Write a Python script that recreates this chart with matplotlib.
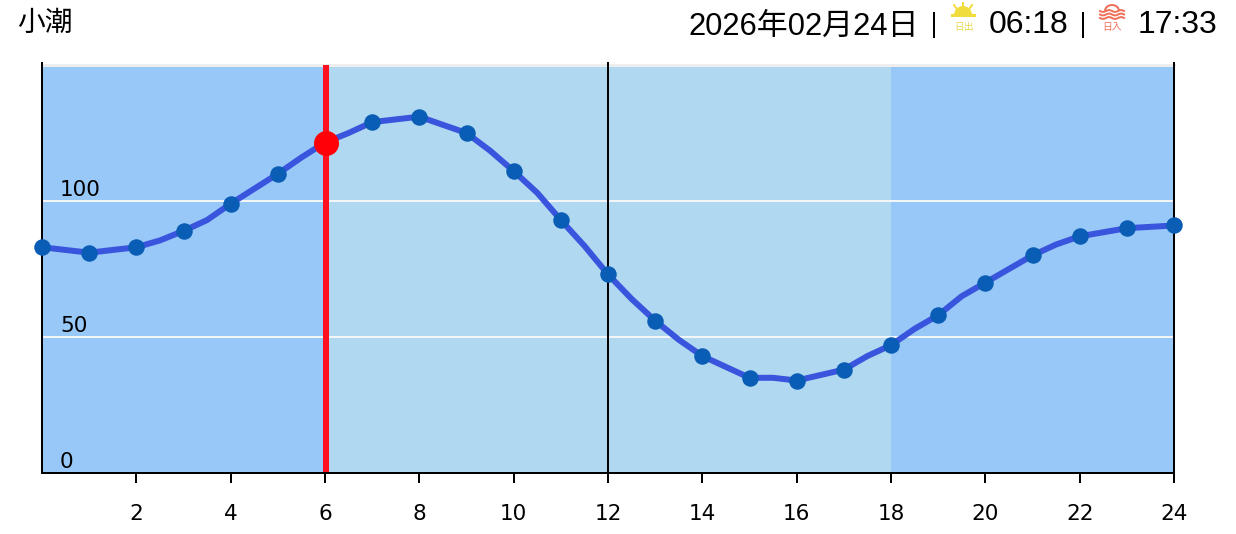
import matplotlib
matplotlib.use('Agg')
import matplotlib.pyplot as plt
from matplotlib.patches import Wedge, Rectangle, Arc
import numpy as np

plt.rcParams['font.family'] = ['Liberation Sans', 'Noto Sans CJK JP', 'DejaVu Sans']

# tide level read at every half hour
line_hours = [0, 0.5, 1, 1.5, 2, 2.5, 3, 3.5, 4, 4.5, 5, 5.5, 6, 6.5, 7, 7.5, 8, 8.5, 9, 9.5,
              10, 10.5, 11, 11.5, 12, 12.5, 13, 13.5, 14, 14.5, 15, 15.5, 16, 16.5, 17, 17.5,
              18, 18.5, 19, 19.5, 20, 20.5, 21, 21.5, 22, 22.5, 23, 23.5, 24]
line_level = [83, 82, 81, 82, 83, 85.5, 89, 93, 99, 104.5, 110, 116, 121.5, 125, 129, 130, 131, 128, 125, 118.5,
              111, 103, 93, 83.5, 73, 64, 56, 49, 43, 39, 35, 35, 34, 36, 38, 43,
              47, 53, 58, 65, 70, 75, 80, 84, 87, 88.5, 90, 90.5, 91]
point_hours = line_hours[::2]
point_level = line_level[::2]
now_hour = 6
now_level = 121.5

x_ticks = [2, 4, 6, 8, 10, 12, 14, 16, 18, 20, 22, 24]
y_labels = [0, 50, 100]
day_start = 6
day_end = 18

W, H = 1236, 534
PX = 0.72  # px -> pt at dpi 100

fig = plt.figure(figsize=(W / 100, H / 100), dpi=100, facecolor='white')
ax = fig.add_axes([42 / W, 1 - 473 / H, (1174 - 42) / W, (473 - 65) / H])
ax.set_xlim(0, 24)
ax.set_ylim(0, 150)

# night / day background
ax.axvspan(0, day_start, color='#97c8f7', lw=0, zorder=0)
ax.axvspan(day_start, day_end, color='#b0d8f0', lw=0, zorder=0)
ax.axvspan(day_end, 24, color='#97c8f7', lw=0, zorder=0)

for v in [50, 100]:
    ax.axhline(v, color='#f2f6f8', lw=2 * PX, zorder=1)
ax.axhline(150, color='#eeeeee', lw=3 * PX, zorder=1, clip_on=False)

ax.plot([12, 12], [0, 150.8], color='black', lw=2 * PX, zorder=2, clip_on=False)
ax.plot([24, 24], [0, 150.8], color='black', lw=2 * PX, zorder=2, clip_on=False)
ax.plot([0, 0], [0, 150.8], color='black', lw=2 * PX, zorder=2, clip_on=False)
ax.axvline(now_hour + 0.02, color='#ff1020', lw=6 * PX, zorder=3)

ax.plot(line_hours, line_level, color='#3a55dd', lw=6 * PX, zorder=4, clip_on=False)
ax.plot(point_hours, point_level, ls='none', marker='o', ms=16.5 * PX, color='#0a5db5', mew=0, zorder=5, clip_on=False)
ax.plot([now_hour + 0.02], [now_level], ls='none', marker='o', ms=25 * PX, color='#ff0008', mew=0, zorder=6, clip_on=False)

for s in ['top', 'right', 'left']:
    ax.spines[s].set_visible(False)
ax.spines['bottom'].set_linewidth(2 * PX)
ax.spines['bottom'].set_zorder(7)

ax.set_yticks([])
ax.set_xticks(x_ticks)
ax.tick_params(axis='x', length=10 * PX, width=2 * PX, pad=21 * PX, labelsize=15.5)
for lab in ax.get_xticklabels():
    lab.set_fontfamily('DejaVu Sans')

for v in y_labels:
    ax.annotate(str(v), xy=(0, v), xytext=(18 * PX, 1 * PX), textcoords='offset points',
                fontsize=15.5, family='DejaVu Sans', ha='left', va='bottom', zorder=8)

# header drawn in pixel coordinates
top = fig.add_axes([0, 0, 1, 1], facecolor='none')
top.set_xlim(0, W)
top.set_ylim(H, 0)
top.axis('off')

top.text(17, 23.5, '小潮', fontsize=20, va='center', ha='left')
top.text(689, 27, '2026年02月24日', fontsize=22.3, va='center', ha='left')
top.text(989, 25, '06:18', fontsize=23, va='center', ha='left')
top.text(1138, 25, '17:33', fontsize=23, va='center', ha='left')
for x in [933.5, 1082.5]:
    top.plot([x, x], [12, 38], color='black', lw=2 * PX, solid_capstyle='butt')

# sunrise icon
sun = '#f0dc3c'
top.add_patch(Wedge((963, 15), 9, 180, 360, color=sun, lw=0))
top.add_patch(Rectangle((951, 14), 25, 3, color=sun, lw=0))
for x0, y0, x1, y1 in [(963, 3, 963, 6), (954, 5, 956, 8), (972, 5, 970, 8)]:
    top.plot([x0, x1], [y0, y1], color=sun, lw=2 * PX)
top.text(964, 27, '日出', fontsize=7, color='#e8d850', ha='center', va='center')

# sunset icon
red = '#f0705a'
top.add_patch(Arc((1112, 11), 14, 12, theta1=180, theta2=360, color=red, lw=2 * PX))
xs = np.linspace(1100, 1124, 60)
for y0 in [11, 14.5, 18]:
    top.plot(xs, y0 + 0.9 * np.sin((xs - 1100) / 24 * 4 * np.pi), color=red, lw=2 * PX)
top.text(1112, 27, '日入', fontsize=7, color=red, ha='center', va='center')

fig.savefig('out.png', dpi=100)
